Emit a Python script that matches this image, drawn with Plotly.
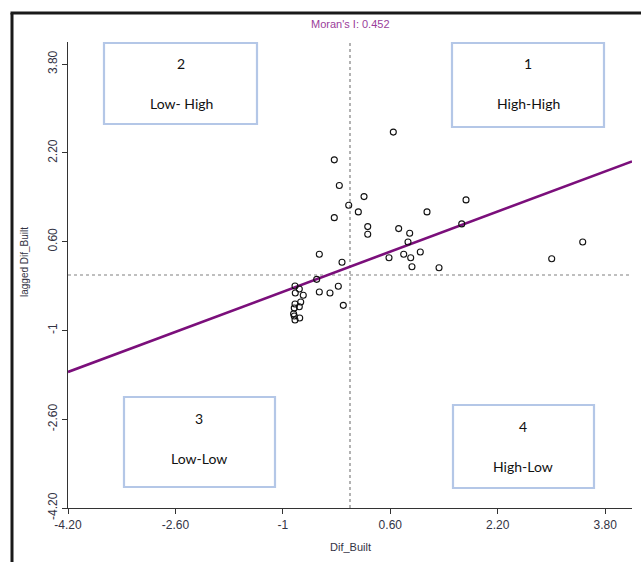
import plotly.graph_objects as go

# ---- data ----
dif_built = [0.645, -0.234, -0.159, 0.209, 1.728, -0.019, 0.124, 1.147, -0.234, 0.264,
             0.264, 0.725, 0.889, 1.664, 0.864, 3.466, 3.004, -0.457, -0.119, 0.581,
             0.800, 0.904, 1.047, 0.923, 1.326, -0.496, -0.457, -0.298, -0.174, -0.100,
             -0.819, -0.755, -0.815, -0.696, -0.734, -0.819, -0.755, -0.830, -0.830, -0.749,
             -0.819, -0.840]
lagged_dif_built = [2.576, 2.076, 1.612, 1.413, 1.354, 1.258, 1.137, 1.137, 1.034, 0.872,
                    0.735, 0.836, 0.753, 0.921, 0.596, 0.596, 0.294, 0.374, 0.229, 0.312,
                    0.374, 0.312, 0.415, 0.150, 0.132, -0.078, -0.307, -0.325, -0.204, -0.547,
                    -0.199, -0.253, -0.325, -0.366, -0.487, -0.523, -0.572, -0.596, -0.740, -0.776,
                    -0.812, -0.700]
morans_i = 0.452
intercept = 0.15
fit_x = [-4.2, 4.2]
fit_y = [intercept + morans_i * v for v in fit_x]

tick_vals = [-4.2, -2.6, -1.0, 0.6, 2.2, 3.8]
tick_text = ["-4.20", "-2.60", "-1", "0.60", "2.20", "3.80"]

quadrant_nums = ["2", "1", "3", "4"]
quadrant_names = ["Low- High", "High-High", "Low-Low", "High-Low"]

# ---- layout geometry (pixels) ----
W, H = 641, 562
L, R, T, B = 68, 632, 42, 508


def px(x):
    return (x - L) / (R - L)


def py(y):
    return (B - y) / (B - T)


# box pixel rectangles (x0, x1, y0, y1) and text positions
boxes = [(104, 257, 43, 124), (452, 604, 43, 127), (124, 275, 397, 487), (453, 594, 405, 488)]
num_pos = [(181, 63), (528, 63), (199, 418), (523, 426)]
name_pos = [(181, 103), (528, 103), (199, 458), (523, 466)]

fig = go.Figure()

fig.add_trace(go.Scatter(
    x=fit_x, y=fit_y, mode="lines",
    line=dict(color="#7b0f7b", width=2.6),
    hoverinfo="skip", showlegend=False))

fig.add_trace(go.Scatter(
    x=dif_built, y=lagged_dif_built, mode="markers",
    marker=dict(symbol="circle-open", size=6, color="#111111", line=dict(width=1.1)),
    showlegend=False))

shapes = []
# dashed mean lines
shapes.append(dict(type="line", xref="x", yref="y", x0=0, x1=0, y0=-4.2, y1=4.2,
                   line=dict(color="#808080", width=1.2, dash="dot"), layer="below"))
shapes.append(dict(type="line", xref="x", yref="y", x0=-4.2, x1=4.2, y0=0, y1=0,
                   line=dict(color="#808080", width=1.2, dash="dot"), layer="below"))
# quadrant boxes
for (x0, x1, y0, y1) in boxes:
    shapes.append(dict(type="rect", xref="paper", yref="paper",
                       x0=px(x0), x1=px(x1), y0=py(y1), y1=py(y0),
                       line=dict(color="#b4c7e7", width=2.2), fillcolor="white", layer="above"))
# screenshot border (left and top)
shapes.append(dict(type="line", xref="paper", yref="paper",
                   x0=px(12), x1=px(12), y0=py(13), y1=py(562),
                   line=dict(color="#1a1a1a", width=3)))
shapes.append(dict(type="line", xref="paper", yref="paper",
                   x0=px(10.5), x1=px(641), y0=py(13), y1=py(13),
                   line=dict(color="#1a1a1a", width=3)))

annotations = []
box_font = dict(family="Lato, Open Sans, sans-serif", size=14, color="#111111")
for i in range(4):
    annotations.append(dict(text=quadrant_nums[i], xref="paper", yref="paper",
                            x=px(num_pos[i][0]), y=py(num_pos[i][1]),
                            showarrow=False, font=box_font, xanchor="center", yanchor="middle"))
    annotations.append(dict(text=quadrant_names[i], xref="paper", yref="paper",
                            x=px(name_pos[i][0]), y=py(name_pos[i][1]),
                            showarrow=False, font=box_font, xanchor="center", yanchor="middle"))
annotations.append(dict(text="Moran's I: 0.452", xref="paper", yref="paper",
                        x=px(350), y=py(24), showarrow=False,
                        font=dict(family="Liberation Sans, Arial", size=11, color="#9a3d9a"),
                        xanchor="center", yanchor="middle"))
# axis titles placed explicitly
title_font = dict(family="Liberation Sans, Arial", size=11, color="#333344")
annotations.append(dict(text="Dif_Built", xref="paper", yref="paper",
                        x=px(350), y=py(547), showarrow=False, font=title_font,
                        xanchor="center", yanchor="middle"))
annotations.append(dict(text="lagged Dif_Built", xref="paper", yref="paper",
                        x=px(24), y=py(262), showarrow=False, textangle=-90,
                        font=dict(family="Liberation Sans, Arial", size=10, color="#333344"),
                        xanchor="center", yanchor="middle"))

axis_font = dict(family="Liberation Sans, Arial", size=12, color="#333344")
fig.update_layout(
    width=W, height=H,
    margin=dict(l=L, r=W - R, t=T, b=H - B, autoexpand=False),
    paper_bgcolor="white", plot_bgcolor="white",
    shapes=shapes, annotations=annotations,
    xaxis=dict(range=[-4.2, 4.2], tickvals=tick_vals, ticktext=tick_text, automargin=False,
               showgrid=False, zeroline=False, showline=True, linecolor="#333333", linewidth=1.2,
               ticks="outside", ticklen=5, tickcolor="#333333", tickfont=axis_font),
    yaxis=dict(range=[-4.2, 4.2], tickvals=tick_vals, ticktext=tick_text, tickangle=-90,
               automargin=False,
               showgrid=False, zeroline=False, showline=True, linecolor="#333333", linewidth=1.2,
               ticks="outside", ticklen=5, tickcolor="#333333", tickfont=axis_font),
)

fig.write_html("out.html", config={"displayModeBar": False},
               post_script="document.body.style.margin='0px';")
